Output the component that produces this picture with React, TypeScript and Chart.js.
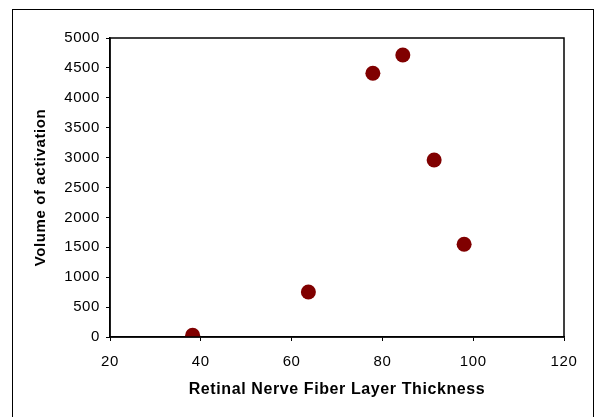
import React, { useEffect, useRef } from "react";
import { Chart, registerables } from "chart.js";

Chart.register(...registerables);

const thickness = [38.2, 63.7, 77.9, 84.5, 91.4, 98.0];
const activation = [30, 752, 4410, 4716, 2960, 1550];
const xTitle = "Retinal Nerve Fiber Layer Thickness";
const yTitle = "Volume of activation";

const FONT = "'Liberation Sans', Arial, Helvetica, sans-serif";

const spacingPlugin = {
  id: "spacing",
  beforeLayout(chart: any) {
    chart.ctx.letterSpacing = "0.6px";
  },
  beforeDraw(chart: any) {
    const ctx = chart.ctx;
    ctx.letterSpacing = "0.6px";
    ctx.save();
    ctx.fillStyle = "#ffffff";
    ctx.fillRect(0, 0, chart.width, chart.height);
    ctx.strokeStyle = "#000000";
    ctx.lineWidth = 1;
    ctx.strokeRect(12.5, 9.5, 581, 430);
    ctx.restore();
  },
  afterDraw(chart: any) {
    const { ctx, chartArea } = chart;
    ctx.save();
    ctx.strokeStyle = "#000000";
    ctx.lineWidth = 1.5;
    ctx.strokeRect(chartArea.left, chartArea.top, chartArea.right - chartArea.left, chartArea.bottom - chartArea.top);
    ctx.restore();
  },
};

export default function App() {
  const ref = useRef<HTMLCanvasElement | null>(null);
  useEffect(() => {
    if (!ref.current) return;
    const chart = new Chart(ref.current, {
      type: "scatter",
      data: {
        datasets: [
          {
            data: thickness.map((x, i) => ({ x, y: activation[i] })),
            backgroundColor: "#800000",
            borderColor: "#800000",
            pointRadius: 7.5,
            pointHoverRadius: 7.5,
            borderWidth: 0,
          },
        ],
      },
      options: {
        animation: false,
        responsive: false,
        layout: { padding: { left: 32, right: 34, top: 38, bottom: 18 } },
        plugins: { legend: { display: false }, tooltip: { enabled: false } },
        scales: {
          x: {
            type: "linear",
            min: 20,
            max: 120,
            ticks: { stepSize: 20, color: "#000", padding: 12, font: { family: FONT, size: 15 }, callback: (v: any) => String(v) },
            grid: { drawOnChartArea: false, drawTicks: true, tickLength: 4, color: "#000" },
            border: { display: true, color: "#000", width: 1.5 },
            title: { display: true, text: xTitle, color: "#000", padding: 0, font: { family: FONT, size: 16, weight: "bold" } },
            afterFit: (s: any) => { s.height = 62; },
          },
          y: {
            type: "linear",
            min: 0,
            max: 5000,
            ticks: { stepSize: 500, color: "#000", padding: 6, font: { family: FONT, size: 15 }, callback: (v: any) => String(v) },
            grid: { drawOnChartArea: false, drawTicks: true, tickLength: 4, color: "#000" },
            border: { display: true, color: "#000", width: 1.5 },
            title: { display: true, text: yTitle, color: "#000", padding: 0, font: { family: FONT, size: 15, weight: "bold" } },
            afterFit: (s: any) => { s.width = 78; },
          },
        },
      },
      plugins: [spacingPlugin],
    } as any);
    return () => chart.destroy();
  }, []);
  return (
    <div style={{ position: "absolute", left: 0, top: 0, width: 598, height: 417 }}>
      <canvas ref={ref} width={598} height={417} style={{ width: 598, height: 417 }} />
    </div>
  );
}
